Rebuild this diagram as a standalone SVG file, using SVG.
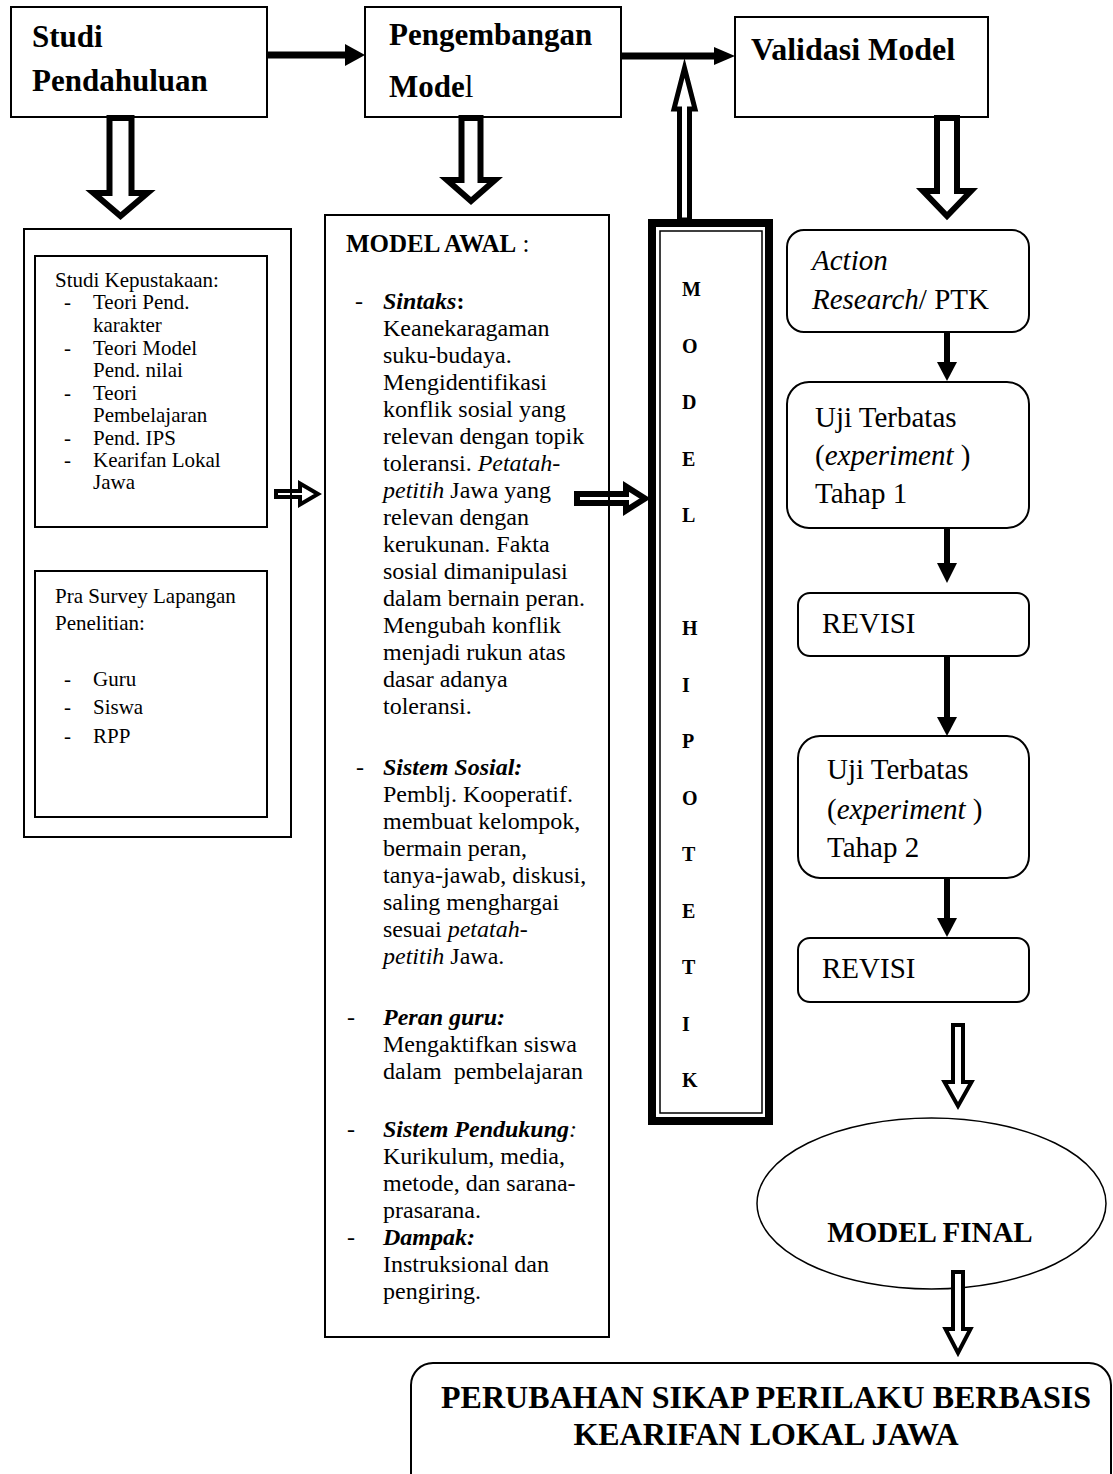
<svg xmlns="http://www.w3.org/2000/svg" width="1113" height="1474" viewBox="0 0 1113 1474">
<style>
.box{fill:#fff;stroke:#000;stroke-width:2}
.t{font-family:"Liberation Serif","Times New Roman",serif;fill:#000}
.h{font-size:31px;font-weight:bold}
.l{font-size:21px}
.m{font-size:24px}
.r{font-size:29px}
.v{font-size:20px;font-weight:bold}
.b{font-weight:bold}
.i{font-style:italic}
.bi{font-weight:bold;font-style:italic}
.hol{fill:none;stroke:#000;stroke-linejoin:miter;stroke-miterlimit:10}
.sol{stroke:#000;fill:none}
</style>
<rect width="1113" height="1474" fill="#fff"/>

<g id="studi-pendahuluan">
<rect class="box" x="11" y="7" width="256" height="110"/>
<text class="t h" x="32" y="47">Studi</text>
<text class="t h" x="32" y="91">Pendahuluan</text>
</g>

<g id="pengembangan-model">
<rect class="box" x="365" y="7" width="256" height="110"/>
<text class="t h" x="389" y="45">Pengembangan</text>
<text class="t h" x="389" y="97">Mode<tspan font-weight="normal">l</tspan></text>
</g>

<g id="validasi-model">
<rect class="box" x="735" y="17" width="253" height="100"/>
<text class="t h" x="751" y="60" style="font-size:32px">Validasi Model</text>
</g>

<g id="studi-container">
<rect class="box" x="24" y="229" width="267" height="608"/>
</g>

<g id="studi-kepustakaan">
<rect class="box" x="35" y="256" width="232" height="271"/>
<text class="t l" x="55" y="287">Studi Kepustakaan:</text>
<text class="t l" x="64" y="309">-</text><text class="t l" x="93" y="309">Teori Pend.</text>
<text class="t l" x="93" y="332">karakter</text>
<text class="t l" x="64" y="355">-</text><text class="t l" x="93" y="355">Teori Model</text>
<text class="t l" x="93" y="377">Pend. nilai</text>
<text class="t l" x="64" y="400">-</text><text class="t l" x="93" y="400">Teori</text>
<text class="t l" x="93" y="422">Pembelajaran</text>
<text class="t l" x="64" y="445">-</text><text class="t l" x="93" y="445">Pend. IPS</text>
<text class="t l" x="64" y="467">-</text><text class="t l" x="93" y="467">Kearifan Lokal</text>
<text class="t l" x="93" y="489">Jawa</text>
</g>

<g id="pra-survey">
<rect class="box" x="35" y="571" width="232" height="246"/>
<text class="t l" x="55" y="603">Pra Survey Lapangan</text>
<text class="t l" x="55" y="630">Penelitian:</text>
<text class="t l" x="64" y="686">-</text><text class="t l" x="93" y="686">Guru</text>
<text class="t l" x="64" y="714">-</text><text class="t l" x="93" y="714">Siswa</text>
<text class="t l" x="64" y="743">-</text><text class="t l" x="93" y="743">RPP</text>
</g>

<g id="model-awal">
<rect class="box" x="325" y="215" width="284" height="1122"/>
<text class="t" x="346" y="252" style="font-size:25px"><tspan class="b">MODEL AWAL</tspan> :</text>
<g class="t m">
<text x="355" y="309">-</text>
<text x="383" y="309"><tspan class="bi">Sintaks</tspan><tspan class="b">:</tspan></text>
<text x="383" y="336">Keanekaragaman</text>
<text x="383" y="363">suku-budaya.</text>
<text x="383" y="390">Mengidentifikasi</text>
<text x="383" y="417">konflik sosial yang</text>
<text x="383" y="444">relevan dengan topik</text>
<text x="383" y="471">toleransi. <tspan class="i">Petatah-</tspan></text>
<text x="383" y="498"><tspan class="i">petitih</tspan> Jawa yang</text>
<text x="383" y="525">relevan dengan</text>
<text x="383" y="552">kerukunan. Fakta</text>
<text x="383" y="579">sosial dimanipulasi</text>
<text x="383" y="606">dalam bernain peran.</text>
<text x="383" y="633">Mengubah konflik</text>
<text x="383" y="660">menjadi rukun atas</text>
<text x="383" y="687">dasar adanya</text>
<text x="383" y="714">toleransi.</text>
<text x="356" y="775">-</text>
<text x="383" y="775" class="bi">Sistem Sosial:</text>
<text x="383" y="802">Pemblj. Kooperatif.</text>
<text x="383" y="829">membuat kelompok,</text>
<text x="383" y="856">bermain peran,</text>
<text x="383" y="883">tanya-jawab, diskusi,</text>
<text x="383" y="910">saling menghargai</text>
<text x="383" y="937">sesuai <tspan class="i">petatah-</tspan></text>
<text x="383" y="964"><tspan class="i">petitih</tspan> Jawa.</text>
<text x="347" y="1025">-</text>
<text x="383" y="1025" class="bi">Peran guru:</text>
<text x="383" y="1052">Mengaktifkan siswa</text>
<text x="383" y="1079" xml:space="preserve">dalam  pembelajaran</text>
<text x="347" y="1137">-</text>
<text x="383" y="1137"><tspan class="bi">Sistem Pendukung</tspan><tspan class="i">:</tspan></text>
<text x="383" y="1164">Kurikulum, media,</text>
<text x="383" y="1191">metode, dan sarana-</text>
<text x="383" y="1218">prasarana.</text>
<text x="347" y="1245">-</text>
<text x="383" y="1245" class="bi">Dampak:</text>
<text x="383" y="1272">Instruksional dan</text>
<text x="383" y="1299">pengiring.</text>
</g>
</g>

<g id="model-hipotetik">
<rect x="652" y="223" width="117" height="898" fill="#fff" stroke="#000" stroke-width="8"/>
<rect x="660" y="231" width="102" height="882" fill="none" stroke="#000" stroke-width="1.5"/>
<g class="t v">
<text x="682" y="296">M</text>
<text x="682" y="352.5">O</text>
<text x="682" y="409">D</text>
<text x="682" y="465.5">E</text>
<text x="682" y="522">L</text>
<text x="682" y="635">H</text>
<text x="682" y="691.5">I</text>
<text x="682" y="748">P</text>
<text x="682" y="804.5">O</text>
<text x="682" y="861">T</text>
<text x="682" y="917.5">E</text>
<text x="682" y="974">T</text>
<text x="682" y="1030.5">I</text>
<text x="682" y="1087">K</text>
</g>
</g>

<g id="action-research">
<rect class="box" x="787" y="230" width="242" height="102" rx="17"/>
<text class="t r i" x="812" y="270">Action</text>
<text class="t r" x="812" y="309"><tspan class="i">Research</tspan>/ PTK</text>
</g>

<g id="uji-terbatas-1">
<rect class="box" x="787" y="382" width="242" height="146" rx="22"/>
<text class="t r" x="815" y="427">Uji Terbatas</text>
<text class="t r" x="815" y="465">(<tspan class="i">experiment </tspan>)</text>
<text class="t r" x="815" y="503">Tahap 1</text>
</g>

<g id="revisi-1">
<rect class="box" x="798" y="593" width="231" height="63" rx="12"/>
<text class="t r" x="822" y="633">REVISI</text>
</g>

<g id="uji-terbatas-2">
<rect class="box" x="798" y="736" width="231" height="142" rx="22"/>
<text class="t r" x="827" y="779">Uji Terbatas</text>
<text class="t r" x="827" y="819">(<tspan class="i">experiment </tspan>)</text>
<text class="t r" x="827" y="857">Tahap 2</text>
</g>

<g id="revisi-2">
<rect class="box" x="798" y="938" width="231" height="64" rx="12"/>
<text class="t r" x="822" y="978">REVISI</text>
</g>

<g id="model-final">
<ellipse cx="931.5" cy="1203.5" rx="174.5" ry="85.5" fill="#fff" stroke="#000" stroke-width="1.5"/>
<text class="t b" x="930" y="1242" text-anchor="middle" style="font-size:29px">MODEL FINAL</text>
</g>

<g id="perubahan-sikap">
<rect class="box" x="411" y="1363" width="700" height="140" rx="22"/>
<text class="t b" x="766" y="1408" text-anchor="middle" style="font-size:32px">PERUBAHAN SIKAP PERILAKU BERBASIS</text>
<text class="t b" x="766" y="1445" text-anchor="middle" style="font-size:32px">KEARIFAN LOKAL JAWA</text>
</g>

<g id="connectors">
<line class="sol" x1="267" y1="55" x2="347" y2="55" stroke-width="7"/>
<polygon points="345,44 365,55 345,66" fill="#000"/>
<line class="sol" x1="621" y1="56" x2="716" y2="56" stroke-width="7"/>
<polygon points="714,47 735,56 714,65" fill="#000"/>

<path class="hol" stroke-width="6" d="M109.5,118 H131.5 V193 H147.5 L120.5,216 L93.5,193 H109.5 Z"/>
<path class="hol" stroke-width="6" d="M461.5,118 H480.5 V180 H495 L471,201 L447,180 H461.5 Z"/>
<path class="hol" stroke-width="6" d="M937,118 H957 V191 H971 L947,216 L923,191 H937 Z"/>
<path class="hol" stroke-width="5" d="M679.5,220 V109 H674 L684.5,68 L695,109 H689.5 V220 Z"/>
<path class="hol" stroke-width="4" d="M276,491 H300 V483.5 L318,494 L300,504.5 V497 H276 Z"/>
<path class="hol" stroke-width="6" d="M577,494 H626 V486.5 L645,498.5 L626,510.5 V503 H577 Z"/>

<line class="sol" x1="947" y1="332" x2="947" y2="364" stroke-width="6"/>
<polygon points="937,362 957,362 947,381" fill="#000"/>
<line class="sol" x1="947" y1="528" x2="947" y2="565" stroke-width="6"/>
<polygon points="937,563 957,563 947,583" fill="#000"/>
<line class="sol" x1="947" y1="656" x2="947" y2="719" stroke-width="6"/>
<polygon points="937,717 957,717 947,736" fill="#000"/>
<line class="sol" x1="947" y1="878" x2="947" y2="920" stroke-width="6"/>
<polygon points="937,918 957,918 947,937" fill="#000"/>

<path class="hol" stroke-width="4" d="M953,1025 H963 V1082 H971.5 L958,1106 L944.5,1082 H953 Z"/>
<path class="hol" stroke-width="4" style="fill:#fff" d="M953,1272 H963 V1329 H970.5 L958,1353 L945.5,1329 H953 Z"/>
</g>
</svg>
